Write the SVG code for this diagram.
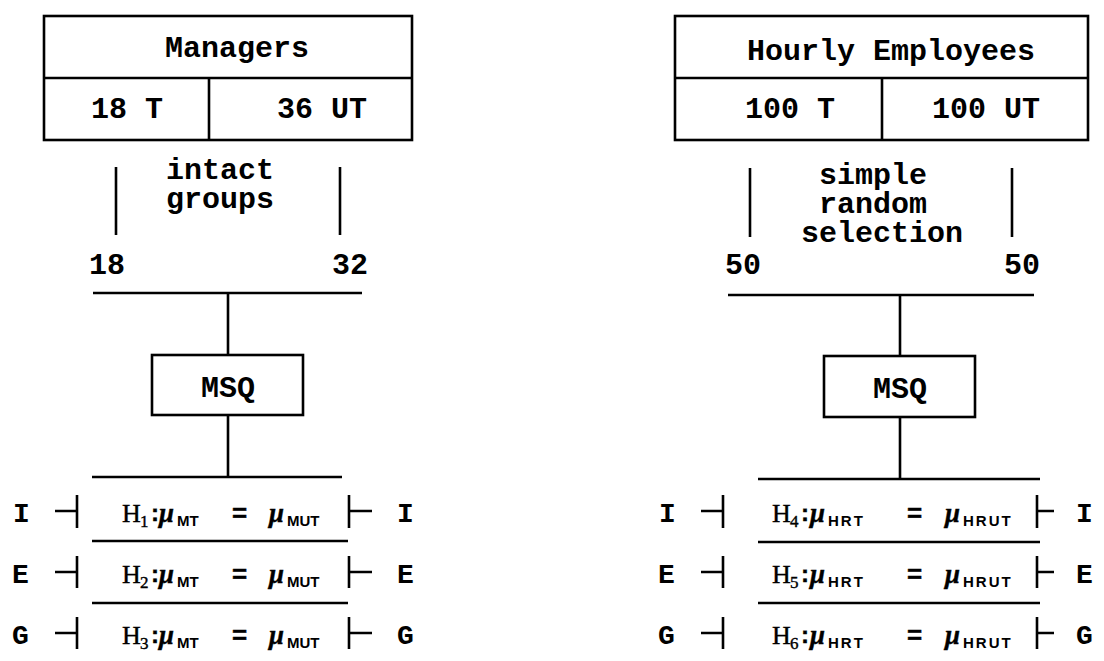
<svg xmlns="http://www.w3.org/2000/svg" width="1104" height="661" viewBox="0 0 1104 661">
  <style>
    .box { fill: #fff; stroke: #000; stroke-width: 2.6; }
    .ln { stroke: #000; stroke-width: 2.6; fill: none; }
    .mono { font-family: "Liberation Mono", "Courier New", monospace; font-weight: bold; font-size: 30px; fill: #000; text-anchor: middle; }
    .lbl { font-family: "Liberation Mono", "Courier New", monospace; font-weight: bold; font-size: 28px; fill: #000; }
    .hyp { font-family: "Liberation Serif", "Times New Roman", serif; font-size: 26px; fill: #000; stroke: #000; stroke-width: 0.4; }
    .sub { font-family: "Liberation Serif", "Times New Roman", serif; font-size: 17px; }
    .col { font-family: "Liberation Sans", Arial, sans-serif; font-weight: bold; font-size: 24px; }
    .mu { font-family: "Liberation Serif", "Times New Roman", serif; font-style: italic; font-weight: bold; font-size: 27px; }
    .ssub { font-family: "Liberation Sans", Arial, sans-serif; font-weight: bold; font-size: 15px; stroke-width: 0; }
    .wide { letter-spacing: 2px; }
    .eq { font-family: "Liberation Sans", Arial, sans-serif; font-weight: bold; font-size: 26px; }
  </style>

  <!-- Population boxes -->
  <g id="managers">
    <rect class="box" x="44" y="16" width="368" height="124"/>
    <line class="ln" x1="44" y1="78" x2="412" y2="78"/>
    <line class="ln" x1="209" y1="78" x2="209" y2="140"/>
    <text class="mono" x="237" y="57">Managers</text>
    <text class="mono" x="127" y="118">18 T</text>
    <text class="mono" x="322" y="118">36 UT</text>
  </g>

  <g id="hourly">
    <rect class="box" x="675" y="16" width="413" height="124"/>
    <line class="ln" x1="675" y1="78" x2="1088" y2="78"/>
    <line class="ln" x1="882" y1="78" x2="882" y2="140"/>
    <text class="mono" x="891" y="60">Hourly Employees</text>
    <text class="mono" x="790" y="118">100 T</text>
    <text class="mono" x="986" y="118">100 UT</text>
  </g>

  <!-- Sampling labels -->
  <g id="sampling-left">
    <text class="mono" x="220" y="179">intact</text>
    <text class="mono" x="220" y="208">groups</text>
    <text class="mono" x="107" y="274">18</text>
    <text class="mono" x="350" y="274">32</text>
  </g>

  <g id="sampling-right">
    <text class="mono" x="873" y="184">simple</text>
    <text class="mono" x="873" y="213">random</text>
    <text class="mono" x="882" y="242">selection</text>
    <text class="mono" x="743" y="274">50</text>
    <text class="mono" x="1022" y="274">50</text>
  </g>

  <!-- Instrument boxes -->
  <g id="msq-left">
    <rect class="box" x="152" y="355" width="151" height="60"/>
    <text class="mono" x="228" y="397">MSQ</text>
  </g>

  <g id="msq-right">
    <rect class="box" x="824" y="356" width="151" height="61"/>
    <text class="mono" x="900" y="398">MSQ</text>
  </g>

  <!-- Hypotheses, managers -->
  <g id="hyp-managers">
    <text class="lbl" x="13" y="522">I</text>
    <text class="lbl" x="12" y="583">E</text>
    <text class="lbl" x="12" y="644">G</text>
    <text class="lbl" x="397" y="522">I</text>
    <text class="lbl" x="397" y="583">E</text>
    <text class="lbl" x="397" y="644">G</text>

    <text class="hyp" y="522"><tspan x="122">H</tspan><tspan class="sub" x="140" dy="5">1</tspan><tspan class="col" x="151" dy="-6">:</tspan><tspan class="mu" x="159" dy="1">μ</tspan><tspan class="ssub" x="177" dy="4">MT</tspan><tspan class="eq" x="232" dy="-4">=</tspan><tspan class="mu" x="269">μ</tspan><tspan class="ssub" x="287" dy="4">MUT</tspan></text>
    <text class="hyp" y="583"><tspan x="122">H</tspan><tspan class="sub" x="140" dy="5">2</tspan><tspan class="col" x="151" dy="-6">:</tspan><tspan class="mu" x="159" dy="1">μ</tspan><tspan class="ssub" x="177" dy="4">MT</tspan><tspan class="eq" x="232" dy="-4">=</tspan><tspan class="mu" x="269">μ</tspan><tspan class="ssub" x="287" dy="4">MUT</tspan></text>
    <text class="hyp" y="644"><tspan x="122">H</tspan><tspan class="sub" x="140" dy="5">3</tspan><tspan class="col" x="151" dy="-6">:</tspan><tspan class="mu" x="159" dy="1">μ</tspan><tspan class="ssub" x="177" dy="4">MT</tspan><tspan class="eq" x="232" dy="-4">=</tspan><tspan class="mu" x="269">μ</tspan><tspan class="ssub" x="287" dy="4">MUT</tspan></text>
  </g>

  <!-- Hypotheses, hourly employees -->
  <g id="hyp-hourly">
    <text class="lbl" x="659" y="522">I</text>
    <text class="lbl" x="658" y="583">E</text>
    <text class="lbl" x="658" y="644">G</text>
    <text class="lbl" x="1076" y="522">I</text>
    <text class="lbl" x="1076" y="583">E</text>
    <text class="lbl" x="1076" y="644">G</text>

    <text class="hyp" y="522"><tspan x="772">H</tspan><tspan class="sub" x="790" dy="5">4</tspan><tspan class="col" x="801" dy="-6">:</tspan><tspan class="mu" x="810" dy="1">μ</tspan><tspan class="ssub wide" x="828" dy="4">HRT</tspan><tspan class="eq" x="907" dy="-4">=</tspan><tspan class="mu" x="945">μ</tspan><tspan class="ssub wide" x="963" dy="4">HRUT</tspan></text>
    <text class="hyp" y="583"><tspan x="772">H</tspan><tspan class="sub" x="790" dy="5">5</tspan><tspan class="col" x="801" dy="-6">:</tspan><tspan class="mu" x="810" dy="1">μ</tspan><tspan class="ssub wide" x="828" dy="4">HRT</tspan><tspan class="eq" x="907" dy="-4">=</tspan><tspan class="mu" x="945">μ</tspan><tspan class="ssub wide" x="963" dy="4">HRUT</tspan></text>
    <text class="hyp" y="644"><tspan x="772">H</tspan><tspan class="sub" x="790" dy="5">6</tspan><tspan class="col" x="801" dy="-6">:</tspan><tspan class="mu" x="810" dy="1">μ</tspan><tspan class="ssub wide" x="828" dy="4">HRT</tspan><tspan class="eq" x="907" dy="-4">=</tspan><tspan class="mu" x="945">μ</tspan><tspan class="ssub wide" x="963" dy="4">HRUT</tspan></text>
  </g>

  <!-- Connectors: selection bars, bus lines, drops, row brackets -->
  <g id="connectors" class="ln">
    <!-- left branch -->
    <line x1="116" y1="167" x2="116" y2="235"/>
    <line x1="340" y1="167" x2="340" y2="235"/>
    <line x1="93" y1="293" x2="362" y2="293"/>
    <line x1="228" y1="293" x2="228" y2="355"/>
    <line x1="228" y1="415" x2="228" y2="477"/>
    <line x1="92" y1="477" x2="342" y2="477"/>
    <line x1="92" y1="541" x2="348" y2="541"/>
    <line x1="92" y1="603" x2="348" y2="603"/>
    <path d="M55 511H77M77 495V528"/>
    <path d="M55 572H77M77 556V588"/>
    <path d="M55 633H77M77 617V649"/>
    <path d="M372 511H349M349 495V528"/>
    <path d="M372 572H349M349 556V588"/>
    <path d="M372 633H349M349 617V649"/>

    <!-- right branch -->
    <line x1="750" y1="168" x2="750" y2="237"/>
    <line x1="1012" y1="168" x2="1012" y2="237"/>
    <line x1="728" y1="295" x2="1034" y2="295"/>
    <line x1="900" y1="295" x2="900" y2="356"/>
    <line x1="900" y1="417" x2="900" y2="479"/>
    <line x1="758" y1="479" x2="1040" y2="479"/>
    <line x1="758" y1="542" x2="1040" y2="542"/>
    <line x1="758" y1="603" x2="1040" y2="603"/>
    <path d="M701 511H723M723 495V528"/>
    <path d="M701 572H723M723 556V588"/>
    <path d="M701 633H723M723 617V649"/>
    <path d="M1054 511H1037M1037 495V528"/>
    <path d="M1054 572H1037M1037 556V588"/>
    <path d="M1054 633H1037M1037 617V649"/>
  </g>
</svg>
